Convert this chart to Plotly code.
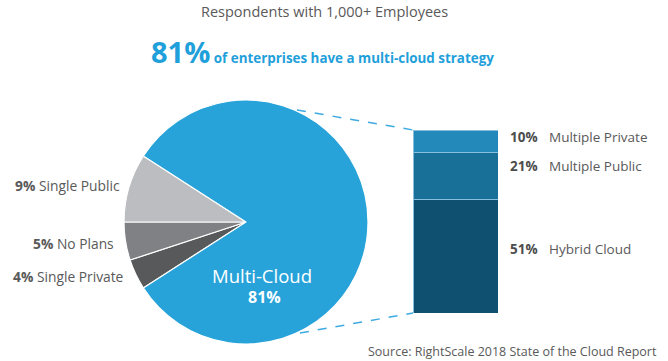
import plotly.graph_objects as go

W, H = 668, 361

# ---- data ----
pie_labels = ["Single Private", "No Plans", "Single Public", "Multi-Cloud"]
pie_values = [4, 5, 9, 81]
pie_colors = ["#58595B", "#808184", "#BCBDC0", "#27A3DA"]

bar_labels = ["Hybrid Cloud", "Multiple Public", "Multiple Private"]
bar_values = [51, 21, 10]
bar_colors = ["#0F5071", "#186F97", "#2389BB"]

title_text = "Respondents with 1,000+ Employees"
headline_pct = "81%"
headline_text = "of enterprises have a multi-cloud strategy"
source_text = "Source: RightScale 2018 State of the Cloud Report"

FONT = "Open Sans"


def px(x):
    return x / W


def py(y):
    return 1 - y / H


fig = go.Figure()

fig.add_trace(go.Pie(
    labels=pie_labels, values=pie_values, sort=False, direction="clockwise",
    rotation=237.3, marker=dict(colors=pie_colors, line=dict(color="white", width=1.2)),
    textinfo="none", hoverinfo="label+value", showlegend=False,
    domain=dict(x=[px(124), px(368)], y=[py(344), py(100)]),
))

for lab, val, col in zip(bar_labels, bar_values, bar_colors):
    fig.add_trace(go.Bar(
        x=[0], y=[val], name=lab, marker=dict(color=col, line=dict(color="#86BEDD", width=1)),
        width=1, xaxis="x", yaxis="y", showlegend=False,
    ))

total = sum(bar_values)
fig.update_layout(
    barmode="stack",
    width=W, height=H,
    margin=dict(l=0, r=0, t=0, b=0),
    paper_bgcolor="white", plot_bgcolor="white",
    font=dict(family=FONT, color="#595959"),
    xaxis=dict(domain=[px(413), px(498)], range=[-0.5, 0.5], visible=False, fixedrange=True),
    yaxis=dict(domain=[py(313), py(130)], range=[0, total], visible=False, fixedrange=True),
)

ann = []
ann.append(dict(x=px(324), y=py(11), xref="paper", yref="paper", text=title_text,
                showarrow=False, font=dict(size=14.5, color="#595959"), xanchor="center", yanchor="middle"))
ann.append(dict(x=px(149), y=py(73), xref="paper", yref="paper",
                text="<span style='font-size:29px'><b>%s</b></span> <b>%s</b>" % (headline_pct, headline_text),
                showarrow=False, font=dict(size=13.4, color="#1FA0DA"), xanchor="left", yanchor="bottom"))

# left pie labels
left = [("9%", "Single Public", 122, 185), ("5%", "No Plans", 116, 243), ("4%", "Single Private", 126, 276)]
for p, t, x, y in left:
    ann.append(dict(x=px(x), y=py(y), xref="paper", yref="paper",
                    text="<b>%s</b> %s" % (p, t), showarrow=False,
                    font=dict(size=13.8, color="#595959"), xanchor="right", yanchor="middle"))

# multi-cloud label inside pie
ann.append(dict(x=px(262), y=py(275), xref="paper", yref="paper", text=pie_labels[3],
                showarrow=False, font=dict(size=18.5, color="white"), xanchor="center", yanchor="middle"))
ann.append(dict(x=px(264), y=py(297), xref="paper", yref="paper", text="<b>%d%%</b>" % pie_values[3],
                showarrow=False, font=dict(size=16, color="white"), xanchor="center", yanchor="middle"))

# bar labels
bar_text_y = {"Multiple Private": 137, "Multiple Public": 166, "Hybrid Cloud": 249}
for lab, val in zip(bar_labels, bar_values):
    y = bar_text_y[lab]
    ann.append(dict(x=px(508), y=py(y), xref="paper", yref="paper", text="<b>%d%%</b>" % val,
                    showarrow=False, font=dict(size=13.5, color="#4D4D4D"), xanchor="left", yanchor="middle"))
    ann.append(dict(x=px(547), y=py(y), xref="paper", yref="paper", text=lab,
                    showarrow=False, font=dict(size=13.5, color="#595959"), xanchor="left", yanchor="middle"))

ann.append(dict(x=px(659), y=py(351), xref="paper", yref="paper", text=source_text,
                showarrow=False, font=dict(size=12.5, color="#595959"), xanchor="right", yanchor="middle"))

fig.update_layout(annotations=ann)

shapes = [
    dict(type="line", xref="paper", yref="paper", x0=px(297), y0=py(110), x1=px(413), y1=py(130),
         line=dict(color="#3DAAE0", width=1.5, dash="dash")),
    dict(type="line", xref="paper", yref="paper", x0=px(300), y0=py(333), x1=px(413), y1=py(313),
         line=dict(color="#3DAAE0", width=1.5, dash="dash")),
]
fig.update_layout(shapes=shapes)

fig.write_html("out.html", config={"displayModeBar": False},
               post_script="document.body.style.margin='0';document.body.style.overflow='hidden';")
